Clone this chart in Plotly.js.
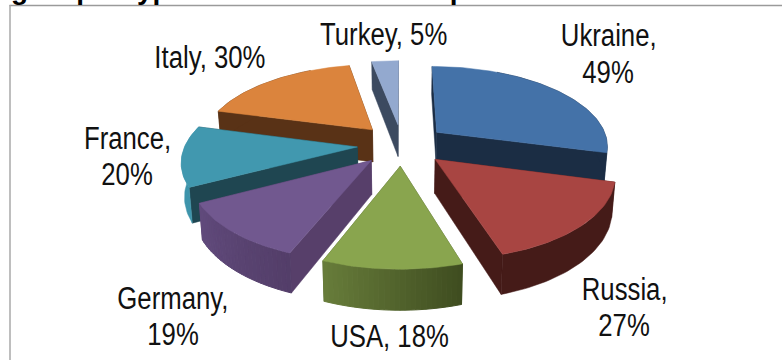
<!DOCTYPE html>
<html><head><meta charset="utf-8">
<script src="https://cdn.plot.ly/plotly-3.0.0.min.js"></script>
<style>html,body{margin:0;padding:0;background:#fff;overflow:hidden}#c{width:782px;height:360px}</style>
</head><body><div id="c"></div>
<script>
// Data
const categories = ["Ukraine","Russia","USA","Germany","France","Italy","Turkey"];
const values = [49,27,18,19,20,30,5];

// Styles
const topColors = ["#4472A8","#A84542","#89A54E","#71588F","#4198AF","#DB843D","#93A9CF"];
const sideColors = ["#1B2D44","#451B18","#4A5A28","#573F6A","#1F4651","#593216","#3C4A60"];
const rimFrom = ["#1B2D44","#451B18","#3F4D20","#533E69","#3E94AB","#593216","#3C4A60"];
const rimTo = ["#1B2D44","#451B18","#677C3A","#614A7C","#3E94AB","#593216","#3C4A60"];
const drawOrder = [6,5,0,4,3,1,2];

// Projection of the tilted pie onto axis units
const view = {cx:402, cy:144.6, rx:172, ry:79.6, persp:0.155, explode:0.26, depth:33, shrink:0.985};
function project(X,Y,low){
  const w = 1 + view.persp*Y;
  let x = view.cx + view.rx*X/w, y = view.cy - view.ry*Y/w;
  if(low){ x = view.cx + (x-view.cx)*view.shrink; y += view.depth/w; }
  return [x,y];
}
const total = values.reduce((a,b)=>a+b,0);
const traces = [];
function poly(pts,color,lw){
  const xs = pts.map(p=>p[0]), ys = pts.map(p=>p[1]);
  xs.push(xs[0]); ys.push(ys[0]);
  traces.push({type:"scatter",mode:"lines",x:xs,y:ys,fill:"toself",fillcolor:color,
    line:{color:color,width:lw||0.5},hoverinfo:"skip",showlegend:false});
}
function hex(c){return [1,3,5].map(i=>parseInt(c.substr(i,2),16));}
function mix(a,b,t){const A=hex(a),B=hex(b);return "rgb("+A.map((v,i)=>Math.round(v+(B[i]-v)*t)).join(",")+")";}

let cum = 0;
const slices = values.map(v=>{
  const s = cum/total*2*Math.PI; cum += v; const e = cum/total*2*Math.PI;
  const b = (s+e)/2, ox = view.explode*Math.sin(b), oy = view.explode*Math.cos(b);
  const n = Math.max(6,Math.round((e-s)*40)), rim = [];
  for(let i=0;i<=n;i++){const a=s+(e-s)*i/n; rim.push([ox+Math.sin(a),oy+Math.cos(a)]);}
  return {ox,oy,rim};
});
drawOrder.forEach(i=>{
  const sl = slices[i], apex=[sl.ox,sl.oy], rim=sl.rim;
  const T = p=>project(p[0],p[1],false), L = p=>project(p[0],p[1],true);
  const first = rim[0], last = rim[rim.length-1];
  const wall = a=>[T(apex),T(a),L(a),L(apex)];
  const walls = [{y:(apex[1]+first[1])/2,pts:wall(first)},{y:(apex[1]+last[1])/2,pts:wall(last)}];
  walls.sort((a,b)=>b.y-a.y);
  walls.forEach(w=>poly(w.pts,sideColors[i]));
  const front = rim.filter(p=>p[1]<=apex[1]+0.9);
  if(rimFrom[i]===rimTo[i]){
    poly(front.map(T).concat(front.slice().reverse().map(L)),rimFrom[i]);
  } else {
    for(let k=0;k<front.length-1;k++){
      const seg = [front[k],front[k+1]];
      poly(seg.map(T).concat(seg.slice().reverse().map(L)),mix(rimFrom[i],rimTo[i],k/(front.length-2)),1);
    }
  }
  poly([T(apex)].concat(rim.map(T)),topColors[i]);
});

// Label placement
const labelLines = [[[608,35],[608,72]],[[624,289],[624,325]],[[389,336]],[[173,298],[173,334]],[[127,138],[127,174]],[[210,57]],[[383,34]]];
const labelFont = {family:"'Liberation Sans',sans-serif",size:31,color:"#111"};
const annotations = [];
categories.forEach((c,i)=>{
  const pos = labelLines[i];
  const txt = pos.length===2 ? [c+",",values[i]+"%"] : [c+", "+values[i]+"%"];
  pos.forEach((p,j)=>annotations.push({x:p[0],y:p[1],xref:"x",yref:"y",text:txt[j],showarrow:false,
    xanchor:"center",yanchor:"middle",font:labelFont}));
});
const titleText = "ge input types to the total of sample";
annotations.push({x:0.012,y:1.029,xref:"paper",yref:"paper",text:titleText,showarrow:false,xanchor:"left",yanchor:"middle",
  font:{family:"'Liberation Sans',sans-serif",size:28,color:"#000",weight:700}});

const layout = {
  width:782,height:360,margin:{l:0,r:0,t:0,b:0},paper_bgcolor:"#fff",plot_bgcolor:"#fff",
  xaxis:{range:[0,782],visible:false,fixedrange:true},
  yaxis:{range:[360,0],visible:false,fixedrange:true},
  annotations,
  shapes:[
    {type:"line",xref:"x",yref:"y",x0:9.5,x1:782,y0:5.5,y1:5.5,line:{color:"#9a9a9a",width:1.5}},
    {type:"line",xref:"x",yref:"y",x0:10,x1:10,y0:5,y1:360,line:{color:"#a8a8a8",width:1.5}}
  ]
};
Plotly.newPlot("c",traces,layout,{displayModeBar:false,staticPlot:true}).then(gd=>{
  // The reference's labels are horizontally condensed
  gd.querySelectorAll(".annotation-text").forEach(t=>{
    if(t.textContent===titleText) return;
    const len = t.getComputedTextLength();
    t.setAttribute("textLength",(len*0.83).toFixed(1));
    t.setAttribute("lengthAdjust","spacingAndGlyphs");
  });
});
</script></body></html>
